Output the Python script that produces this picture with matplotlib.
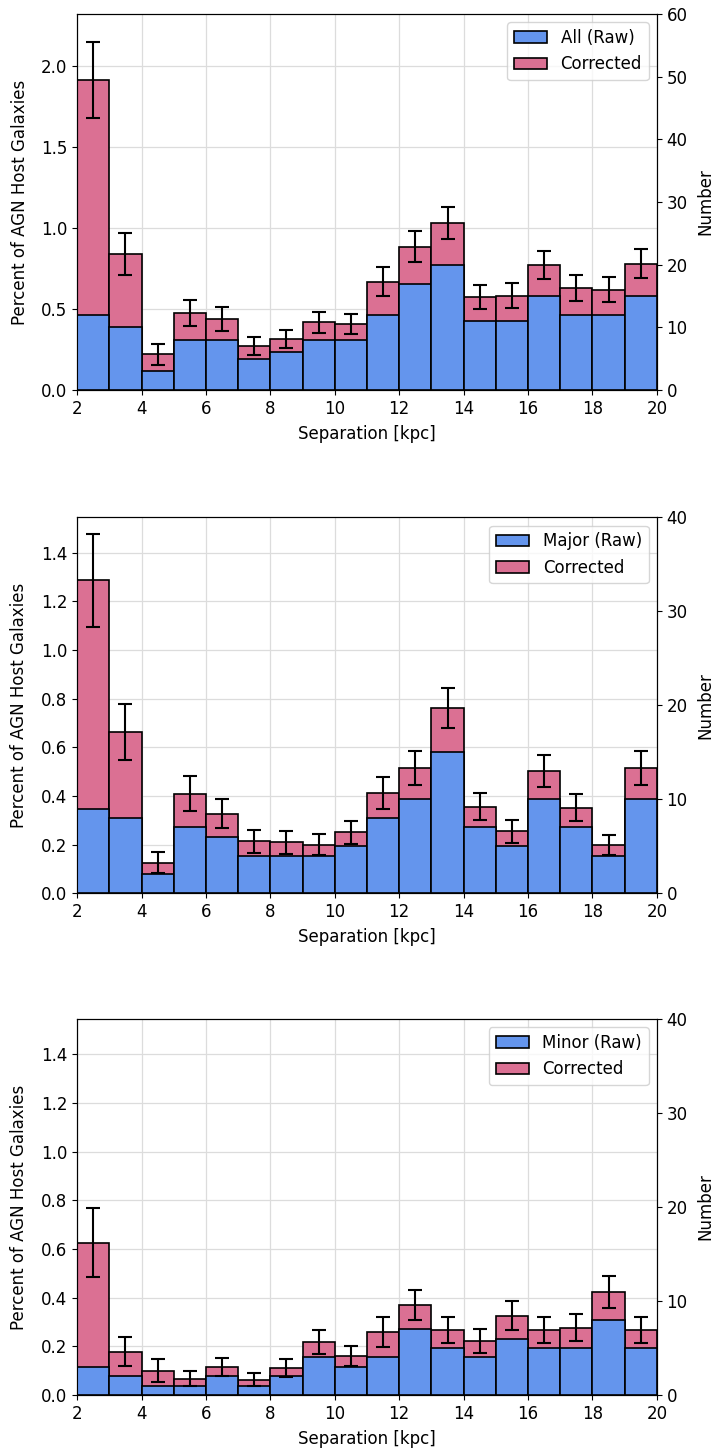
#!/usr/bin/env python3

import numpy as np
import matplotlib
matplotlib.use('Agg')
import matplotlib.pyplot as plt

# separation bins [kpc]
bin_edges = [2, 3, 4, 5, 6, 7, 8, 9, 10, 11, 12, 13, 14, 15, 16, 17, 18, 19, 20]

# total number of AGN host galaxies (sets percent <-> number scale)
n_agn_hosts = 2587

# raw pair counts per bin
all_raw_counts = [12, 10, 3, 8, 8, 5, 6, 8, 8, 12, 17, 20, 11, 11, 15, 12, 12, 15]
major_raw_counts = [9, 8, 2, 7, 6, 4, 4, 4, 5, 8, 10, 15, 7, 5, 10, 7, 4, 10]
minor_raw_counts = [3, 2, 1, 1, 2, 1, 2, 4, 3, 4, 7, 5, 4, 6, 5, 5, 8, 5]

# corrected percentages and their errors
all_corr_pct = [1.912, 0.838, 0.222, 0.474, 0.439, 0.271, 0.316, 0.419, 0.409,
                0.669, 0.885, 1.029, 0.573, 0.581, 0.770, 0.628, 0.620, 0.780]
all_corr_err = [0.236, 0.131, 0.065, 0.080, 0.072, 0.055, 0.057, 0.064, 0.063,
                0.088, 0.094, 0.100, 0.076, 0.077, 0.086, 0.079, 0.078, 0.087]

major_corr_pct = [1.286, 0.663, 0.125, 0.410, 0.327, 0.213, 0.209, 0.200, 0.251,
                  0.412, 0.515, 0.762, 0.355, 0.254, 0.502, 0.351, 0.198, 0.513]
major_corr_err = [0.192, 0.117, 0.043, 0.073, 0.060, 0.048, 0.046, 0.042, 0.047,
                  0.065, 0.071, 0.083, 0.056, 0.048, 0.067, 0.055, 0.042, 0.070]

minor_corr_pct = [0.626, 0.178, 0.099, 0.067, 0.116, 0.063, 0.111, 0.219, 0.160,
                  0.259, 0.371, 0.268, 0.221, 0.326, 0.267, 0.277, 0.423, 0.267]
minor_corr_err = [0.141, 0.061, 0.047, 0.032, 0.037, 0.026, 0.036, 0.049, 0.040,
                  0.063, 0.061, 0.053, 0.050, 0.060, 0.053, 0.056, 0.065, 0.053]

panels = [
    ('All (Raw)', all_raw_counts, all_corr_pct, all_corr_err, 60),
    ('Major (Raw)', major_raw_counts, major_corr_pct, major_corr_err, 40),
    ('Minor (Raw)', minor_raw_counts, minor_corr_pct, minor_corr_err, 40),
]

RAW_COLOR = '#6495ED'
CORR_COLOR = '#DB7093'


def draw_panel(ax, label, raw_counts, corr_pct, corr_err, number_max):
    edges = np.array(bin_edges, dtype=float)
    centers = 0.5 * (edges[:-1] + edges[1:])
    widths = np.diff(edges)
    raw_pct = np.array(raw_counts) / n_agn_hosts * 100

    ax.set_axisbelow(True)
    ax.grid(True, color='#dcdcdc', linewidth=0.9)
    ax.bar(centers, corr_pct, width=widths, color=CORR_COLOR, edgecolor='k',
           linewidth=1.2, label='Corrected', zorder=2)
    ax.bar(centers, raw_pct, width=widths, color=RAW_COLOR, edgecolor='k',
           linewidth=1.2, label=label, zorder=3)
    ax.errorbar(centers, corr_pct, yerr=corr_err, fmt='none', ecolor='k',
                elinewidth=1.5, capsize=5, capthick=1.5, zorder=4)

    ax.set_xlim(edges[0], edges[-1])
    ax.set_ylim(0, number_max / n_agn_hosts * 100)
    ax.set_xticks([2, 4, 6, 8, 10, 12, 14, 16, 18, 20])
    ax.set_xlabel('Separation [kpc]', labelpad=5)
    ax.set_ylabel('Percent of AGN Host Galaxies', labelpad=9)

    handles, labels = ax.get_legend_handles_labels()
    ax.legend(handles[::-1], labels[::-1], loc='upper right')

    ax2 = ax.twinx()
    ax2.set_ylim(0, number_max)
    ax2.set_yticks(np.arange(0, number_max + 1, 10))
    ax2.set_ylabel('Number', labelpad=6)


def main():
    plt.rcParams['font.size'] = 12
    fig = plt.figure(figsize=(7.14, 14.5), dpi=100)
    bottoms = [0.731, 0.384, 0.038]
    for (label, raw, corr, err, nmax), bottom in zip(panels, bottoms):
        ax = fig.add_axes([0.108, bottom, 0.812, 0.2593])
        draw_panel(ax, label, raw, corr, err, nmax)
    fig.savefig('out.png', dpi=100)


if __name__ == '__main__':
    main()
